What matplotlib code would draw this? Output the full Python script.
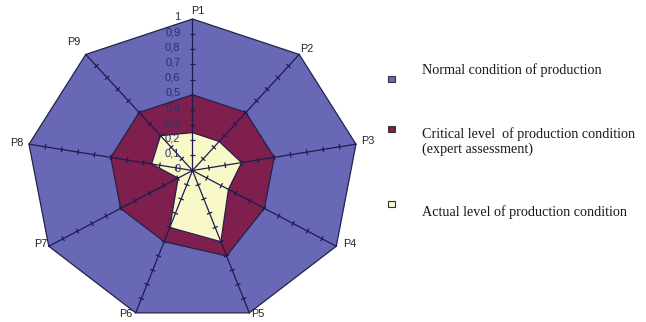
import numpy as np
import matplotlib
matplotlib.use("Agg")
import matplotlib.pyplot as plt
from matplotlib.collections import LineCollection
from matplotlib.patches import Rectangle

# Indicators and their levels
categories = ["P1", "P2", "P3", "P4", "P5", "P6", "P7", "P8", "P9"]
normal = [1.0, 1.0, 1.0, 1.0, 1.0, 1.0, 1.0, 1.0, 1.0]
critical = [0.5, 0.5, 0.5, 0.5, 0.6, 0.5, 0.5, 0.5, 0.5]
actual = [0.25, 0.25, 0.3, 0.25, 0.5, 0.4, 0.1, 0.25, 0.3]
scale_ticks = [0.0, 0.1, 0.2, 0.3, 0.4, 0.5, 0.6, 0.7, 0.8, 0.9, 1.0]
series_labels = ["Normal condition of production",
                 "Critical level  of production condition\n(expert assessment)",
                 "Actual level of production condition"]

W, H = 646, 322
fig = plt.figure(figsize=(W / 100, H / 100), dpi=100)
fig.patch.set_facecolor("white")
ax = fig.add_axes([0, 0, 1, 1])
ax.set_axis_off()

# Chart centre and radii in pixels (the radar is drawn slightly wider than tall)
cx, cy, rx, ry = 192.5, 170.5, 166.0, 151.5
ax.set_xlim(-cx / rx, (W - cx) / rx)
ax.set_ylim((cy - H) / ry, cy / ry)

n = len(categories)
theta = np.arange(n) * 2 * np.pi / n  # clockwise from the top


def to_xy(values):
    v = np.asarray(values, dtype=float)
    return v * np.sin(theta), v * np.cos(theta)


col_normal = "#6868b6"
col_critical = "#7e1f4e"
col_actual = "#f9f8c9"
edge = "#22224a"

for vals, col in [(normal, col_normal), (critical, col_critical), (actual, col_actual)]:
    x, y = to_xy(vals)
    ax.fill(x, y, facecolor=col, edgecolor=edge, linewidth=0.9, zorder=2)

# Spokes with tick marks every 0.1
spoke_col = "#1c1c50"
for t in theta:
    ax.plot([0, np.sin(t)], [0, np.cos(t)], color=spoke_col, lw=0.9, zorder=3)
segs = []
half = 2.8
for t in theta:
    ux, uy = rx * np.sin(t), ry * np.cos(t)
    norm = np.hypot(ux, uy)
    px, py = -uy / norm, ux / norm
    for v in scale_ticks[1:-1]:
        x0, y0 = v * np.sin(t), v * np.cos(t)
        segs.append([(x0 - px * half / rx, y0 - py * half / ry),
                     (x0 + px * half / rx, y0 + py * half / ry)])
ax.add_collection(LineCollection(segs, colors=spoke_col, linewidths=0.9, zorder=3))

# Scale labels along the first axis (decimal comma)
for v in scale_ticks:
    txt = ("%g" % v).replace(".", ",")
    ax.annotate(txt, (0, v), xytext=(-12, 2), textcoords="offset pixels",
                ha="right", va="center", fontsize=8, color="#2c3068",
                family="Liberation Sans", zorder=4)

# Axis names
label_offsets = [(5.5, 7.5, "center"), (1, 5, "left"), (5, 3, "left"),
                 (7, 2, "left"), (1.5, -1, "left"), (-3, -1, "right"),
                 (-1, 2, "right"), (-6, 1, "right"), (-5, 12.5, "right")]
for i, (name, (ox, oy, ha)) in enumerate(zip(categories, label_offsets)):
    ax.annotate(name, (np.sin(theta[i]), np.cos(theta[i])), xytext=(ox, oy),
                textcoords="offset pixels", ha=ha, va="center", fontsize=7.8,
                color="#222222", family="Liberation Sans", zorder=4)

# Legend
legend_marker_y = [79, 129, 204]
legend_text_y = [70, 141.5, 212]
for col, my, ty, lab in zip([col_normal, col_critical, col_actual],
                            legend_marker_y, legend_text_y, series_labels):
    fig.patches.append(Rectangle(((388.5) / W, 1 - (my + 3.2) / H), 6.4 / W, 6.4 / H,
                                 transform=fig.transFigure, facecolor=col,
                                 edgecolor="#333333", linewidth=0.8))
    fig.text(422.5 / W, 1 - ty / H, lab, ha="left", va="center", fontsize=10.2,
             family="Liberation Serif", color="#1a1a1a", linespacing=1.2)

fig.savefig("out.png", dpi=100, facecolor="white")
